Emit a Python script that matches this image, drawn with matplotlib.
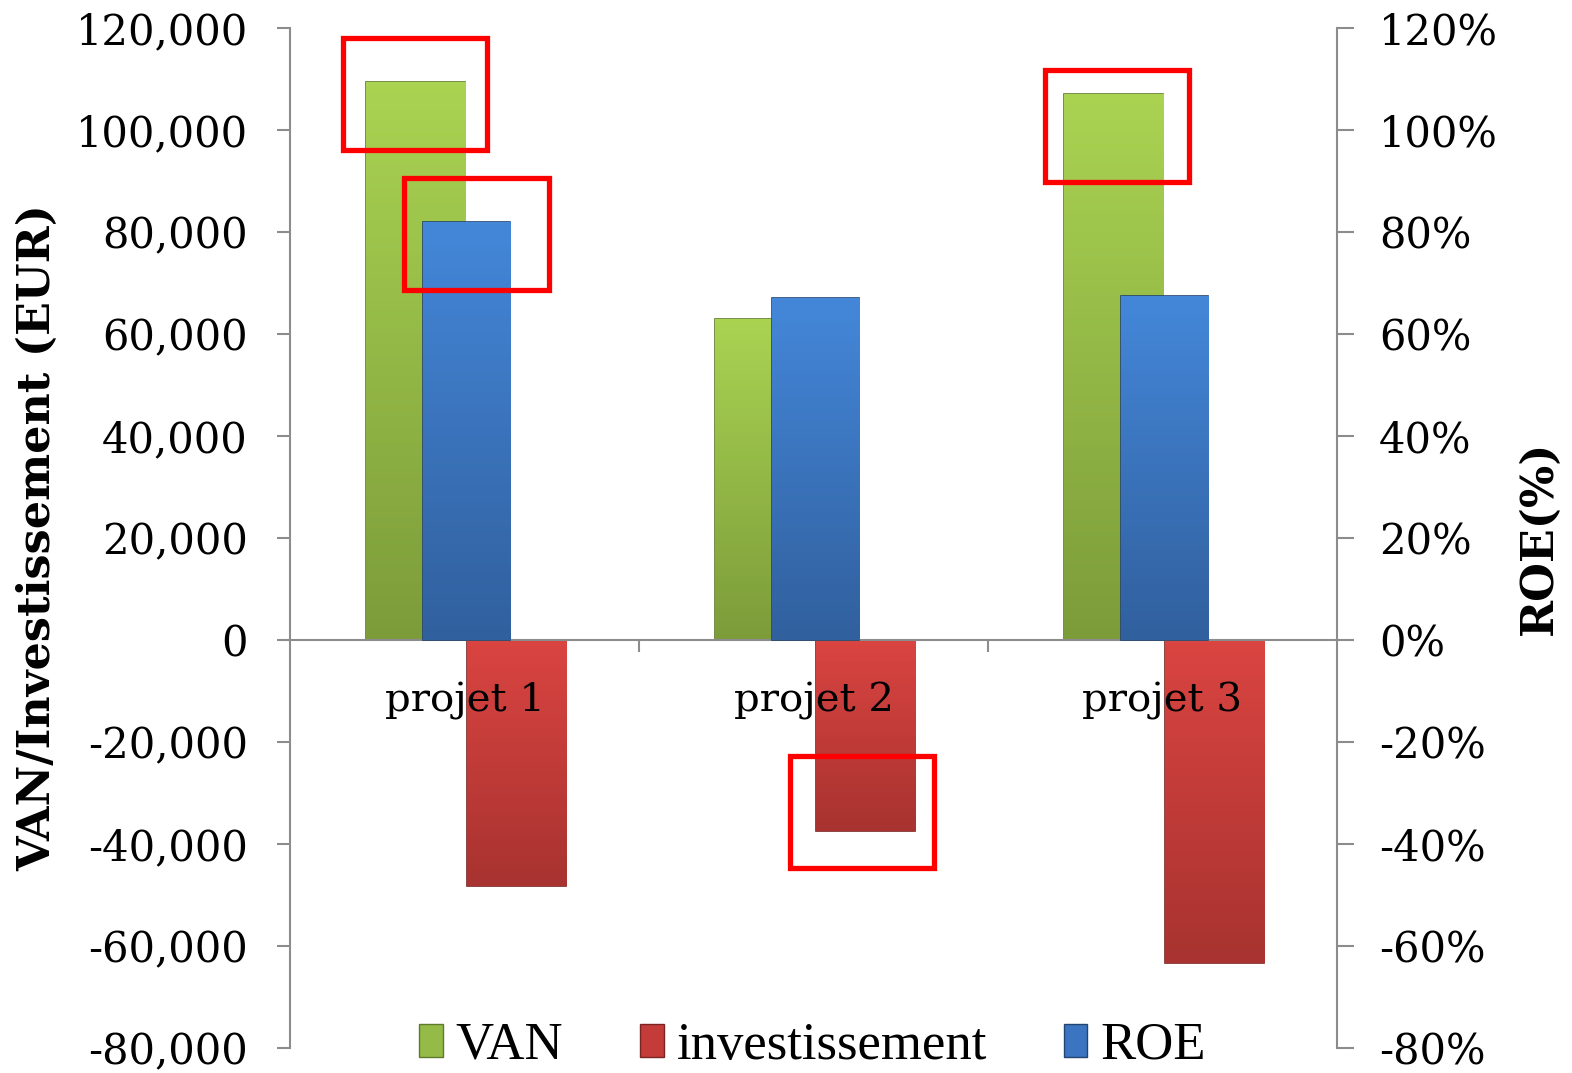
import numpy as np
import matplotlib
matplotlib.use('Agg')
import matplotlib.pyplot as plt
from matplotlib.patches import Rectangle, Patch
from matplotlib.colors import LinearSegmentedColormap

projets = ['projet 1', 'projet 2', 'projet 3']
van = [109500, 63000, 107000]
investissement = [-48300, -37400, -63300]
roe = [0.82, 0.67, 0.675]

# highlight boxes (x offset from category, y in EUR)
boxes = [(0, -0.348, 0.412, 96000, 22000),
         (0, -0.173, 0.415, 68600, 22000),
         (2, -0.337, 0.413, 89800, 22000),
         (1, -0.067, 0.412, -44700, 22000)]

gray = '#8c8c8c'
plt.rcParams['font.family'] = 'DejaVu Serif'

fig = plt.figure(figsize=(15.72, 10.73), dpi=100)
ax = fig.add_axes([0.1845, 0.0233, 0.666, 0.9506])
ax2 = ax.twinx()
ax.set_axisbelow(False)

x = np.arange(len(projets))


def gradient_bars(axis, bars, top, bottom, edge):
    cmap = LinearSegmentedColormap.from_list('g', [bottom, top])
    for b in bars:
        x0, y0 = b.get_x(), b.get_y()
        w, h = b.get_width(), b.get_height()
        lo, hi = min(y0, y0 + h), max(y0, y0 + h)
        grad = np.linspace(0, 1, 100).reshape(-1, 1)
        if h < 0:
            grad = np.linspace(0.35, 1, 100).reshape(-1, 1)
        im = axis.imshow(grad, extent=[x0, x0 + w, lo, hi], origin='lower',
                         cmap=cmap, aspect='auto', zorder=b.get_zorder())
        im.set_clip_path(b)
        b.set_facecolor('none')
        b.set_edgecolor(edge)
        b.set_linewidth(1.2)


b_van = ax.bar(x - 0.14, van, width=0.284, zorder=2)
b_inv = ax.bar(x + 0.149, investissement, width=0.284, zorder=2)
b_roe = ax2.bar(x + 0.005, roe, width=0.25, zorder=2)
gradient_bars(ax, b_van, '#aad352', '#7c9c3a', '#5f7a2a')
gradient_bars(ax, b_inv, '#da4441', '#a83330', '#7a2422')
gradient_bars(ax2, b_roe, '#4487d9', '#31609e', '#22446f')

ax.set_xlim(-0.5, 2.5)
ax.set_ylim(-80000, 120000)
ax2.set_ylim(-0.8, 1.2)

ax.set_yticks(np.arange(-80000, 120001, 20000))
ax.set_yticklabels([f'{v:,}' for v in range(-80000, 120001, 20000)])
ax2.set_yticks(np.arange(-0.8, 1.21, 0.2))
ax2.set_yticklabels([f'{round(v * 100)}%' for v in np.arange(-0.8, 1.21, 0.2)])

ax.spines['bottom'].set_position(('data', 0))
for s in ['top', 'right']:
    ax.spines[s].set_visible(False)
for s in ['top', 'left', 'bottom']:
    ax2.spines[s].set_visible(False)
for sp in [ax.spines['left'], ax.spines['bottom'], ax2.spines['right']]:
    sp.set_color(gray)
    sp.set_linewidth(1.5)

ax.set_xticks([0.5, 1.5])
ax.set_xticklabels([])
ax.set_xticks(x, minor=True)
ax.set_xticklabels(projets, minor=True, fontsize=29)
ax.tick_params(axis='x', which='major', direction='out', length=8.6, color=gray, width=1.5)
ax.tick_params(axis='x', which='minor', length=0, pad=30)
ax.tick_params(axis='y', direction='out', length=9.4, color=gray, width=1.5, labelsize=30, pad=21)
ax2.tick_params(axis='y', direction='out', length=12.2, color=gray, width=1.5, labelsize=30, pad=18)

ax.set_ylabel('VAN/Investissement (EUR)', fontsize=32, fontweight='bold', labelpad=12)
ax2.set_ylabel('ROE(%)', fontsize=32, fontweight='bold', labelpad=14)

for i, dx, w, y0, h in boxes:
    ax2.add_patch(Rectangle((i + dx, y0), w, h, transform=ax.transData,
                            fill=False, edgecolor='#ff0000', linewidth=3.8,
                            zorder=10, clip_on=False))

handles = [Patch(facecolor='#94bb47', edgecolor='#5f7a2a', label='VAN'),
           Patch(facecolor='#c43c3a', edgecolor='#7a2422', label='investissement'),
           Patch(facecolor='#3b74c0', edgecolor='#22446f', label='ROE')]
ax.legend(handles=handles, loc='center', bbox_to_anchor=(0.499, 0.002), ncol=3,
          frameon=False, prop={'family': 'Liberation Serif', 'size': 38},
          handlelength=0.45, handleheight=0.6, handletextpad=0.25, columnspacing=1.45,
          borderpad=0)

fig.savefig('out.png', dpi=100)
